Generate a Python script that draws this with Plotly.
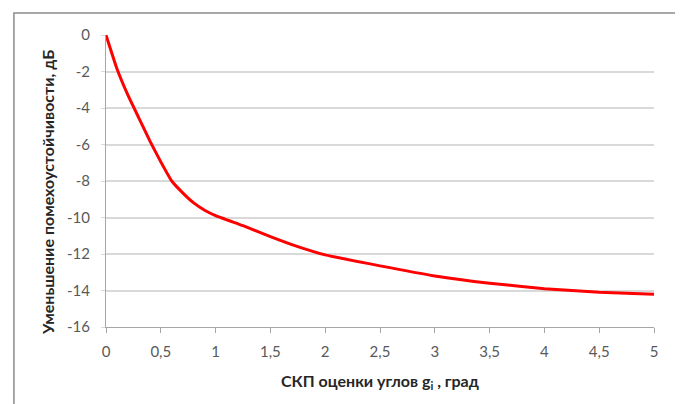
import plotly.graph_objects as go

x_vals = [0, 0.1, 0.2, 0.3, 0.4, 0.5, 0.6, 0.7, 0.8, 0.9, 1.0, 1.25, 1.5, 1.75, 2.0, 2.5, 3.0, 3.5, 4.0, 4.5, 5.0]
y_vals = [0, -1.85, -3.3, -4.55, -5.8, -6.95, -8.0, -8.65, -9.2, -9.6, -9.9, -10.45, -11.05, -11.6, -12.05, -12.65, -13.2, -13.6, -13.9, -14.1, -14.2]

x_ticks = [0, 0.5, 1, 1.5, 2, 2.5, 3, 3.5, 4, 4.5, 5]
x_tick_labels = ["0", "0,5", "1", "1,5", "2", "2,5", "3", "3,5", "4", "4,5", "5"]
y_ticks = [0, -2, -4, -6, -8, -10, -12, -14, -16]
y_tick_labels = ["0", "-2", "-4", "-6", "-8", "-10", "-12", "-14", "-16"]

x_title = "<b>СКП оценки углов g<sub>i</sub> , град</b>"
y_title = "<b>Уменьшение помехоустойчивости, дБ</b>"

fig = go.Figure()
fig.add_trace(go.Scatter(
    x=x_vals, y=y_vals, mode="lines",
    line=dict(color="#ff0000", width=3, shape="spline", smoothing=0.4),
    showlegend=False, hoverinfo="skip",
))

font_family = "Lato, Open Sans, sans-serif"

fig.update_layout(
    width=675, height=396,
    margin=dict(l=98, r=29, t=27, b=77),
    paper_bgcolor="white", plot_bgcolor="white",
    font=dict(family=font_family, color="#595959", size=12),
    xaxis=dict(
        range=[0, 5], tickvals=x_ticks, ticktext=x_tick_labels,
        showgrid=False, zeroline=False,
        showline=True, linecolor="#a6a6a6", linewidth=1,
        ticks="outside", ticklen=5, tickcolor="#a6a6a6",
        tickfont=dict(size=15, color="#595959"),
        ticklabelstandoff=6,
    ),
    yaxis=dict(
        range=[-16, 0], tickvals=y_ticks, ticktext=y_tick_labels,
        showgrid=True, gridcolor="#d9d9d9", gridwidth=1.5,
        zeroline=False,
        showline=True, linecolor="#a6a6a6", linewidth=1,
        ticks="outside", ticklen=4, tickcolor="#d9d9d9",
        tickfont=dict(size=15, color="#595959"),
        ticklabelstandoff=8,
    ),
    annotations=[
        dict(text=x_title, xref="paper", yref="paper", x=0.5, y=-0.185,
             xanchor="center", yanchor="middle", showarrow=False,
             font=dict(size=16, color="#262626", family=font_family)),
        dict(text=y_title, xref="paper", yref="paper", x=-0.108, y=0.462,
             xanchor="center", yanchor="middle", showarrow=False, textangle=-90,
             font=dict(size=16, color="#262626", family=font_family)),
    ],
    shapes=[
        dict(type="rect", xref="paper", yref="paper",
             x0=-0.168, x1=1.2, y0=-0.4, y1=1.075,
             line=dict(color="#8c8c8c", width=1.5), fillcolor="rgba(0,0,0,0)", layer="below"),
    ],
)

fig.write_html("out.html")
